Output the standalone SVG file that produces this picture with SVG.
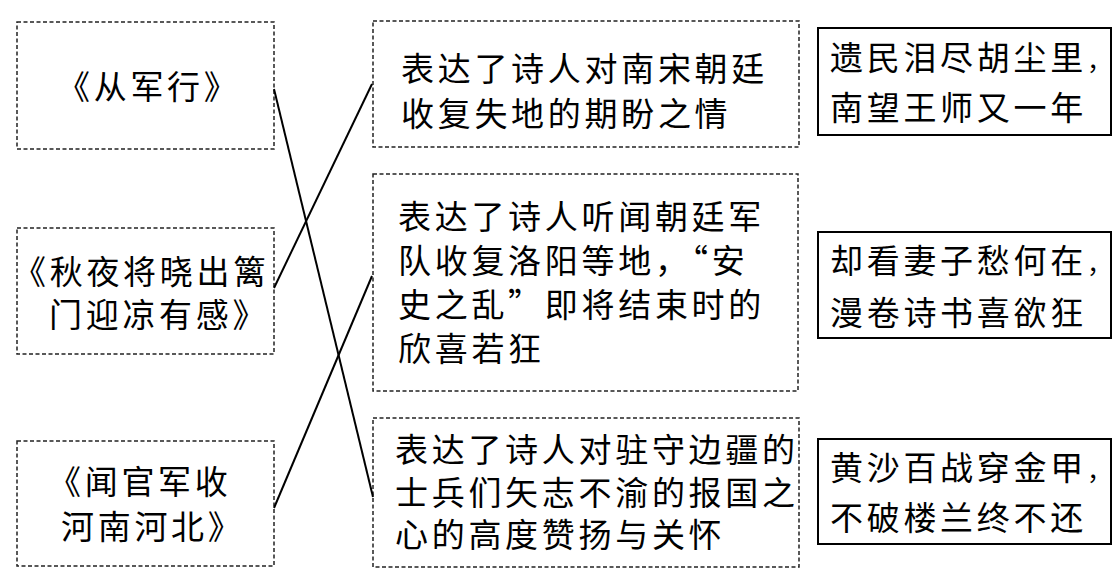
<svg xmlns="http://www.w3.org/2000/svg" width="1113" height="583" viewBox="0 0 1113 583">
<style>
.dash{fill:none;stroke:#222;stroke-width:1.5;stroke-dasharray:4 2.5}
.solid{fill:none;stroke:#000;stroke-width:2}
.t{font-family:"Noto Sans CJK SC","Noto Sans CJK TC",sans-serif;font-size:33px;letter-spacing:3.7px;fill:#000}
.c{font-size:25px;letter-spacing:0}
.ln{stroke:#000;stroke-width:2;fill:none}
</style>
<rect width="1113" height="583" fill="#fff"/>
<g id="left1"><rect class="dash" x="17" y="22" width="257" height="127"/><text class="t" x="57" y="98.5">《从军行》</text></g>
<g id="left2"><rect class="dash" x="17" y="228" width="257" height="126"/><text class="t" x="13" y="283.5">《秋夜将晓出篱</text><text class="t" x="49" y="326.5">门迎凉有感》</text></g>
<g id="left3"><rect class="dash" x="17" y="441" width="257" height="125"/><text class="t" x="48" y="493.5">《闻官军收</text><text class="t" x="61" y="538.5">河南河北》</text></g>
<g id="mid1"><rect class="dash" x="373" y="21" width="426" height="126"/><text class="t" x="401" y="81">表达了诗人对南宋朝廷</text><text class="t" x="401" y="126">收复失地的期盼之情</text></g>
<g id="mid2"><rect class="dash" x="373" y="174" width="425" height="217"/><text class="t" x="398" y="228.5">表达了诗人听闻朝廷军</text><text class="t" x="398" y="272.5">队收复洛阳等地，“安</text><text class="t" x="398" y="316.5">史之乱”即将结束时的</text><text class="t" x="398" y="360.5">欣喜若狂</text></g>
<g id="mid3"><rect class="dash" x="373" y="418" width="426" height="149"/><text class="t" x="395" y="461.5">表达了诗人对驻守边疆的</text><text class="t" x="395" y="505">士兵们矢志不渝的报国之</text><text class="t" x="395" y="546.5">心的高度赞扬与关怀</text></g>
<g id="right1"><rect class="solid" x="818" y="28" width="293" height="107"/><text class="t" x="830" y="69.5">遗民泪尽胡尘里<tspan class="c">，</tspan></text><text class="t" x="830" y="119.5">南望王师又一年</text></g>
<g id="right2"><rect class="solid" x="818" y="232" width="293" height="106"/><text class="t" x="830" y="272.5">却看妻子愁何在<tspan class="c">，</tspan></text><text class="t" x="830" y="324.5">漫卷诗书喜欲狂</text></g>
<g id="right3"><rect class="solid" x="818" y="439" width="293" height="105"/><text class="t" x="830" y="479.5">黄沙百战穿金甲<tspan class="c">，</tspan></text><text class="t" x="830" y="530">不破楼兰终不还</text></g>
<g id="connectors">
<line class="ln" x1="274" y1="89" x2="373" y2="497"/>
<line class="ln" x1="372" y1="84" x2="274" y2="288"/>
<line class="ln" x1="274" y1="508" x2="372" y2="276"/>
</g>
</svg>
